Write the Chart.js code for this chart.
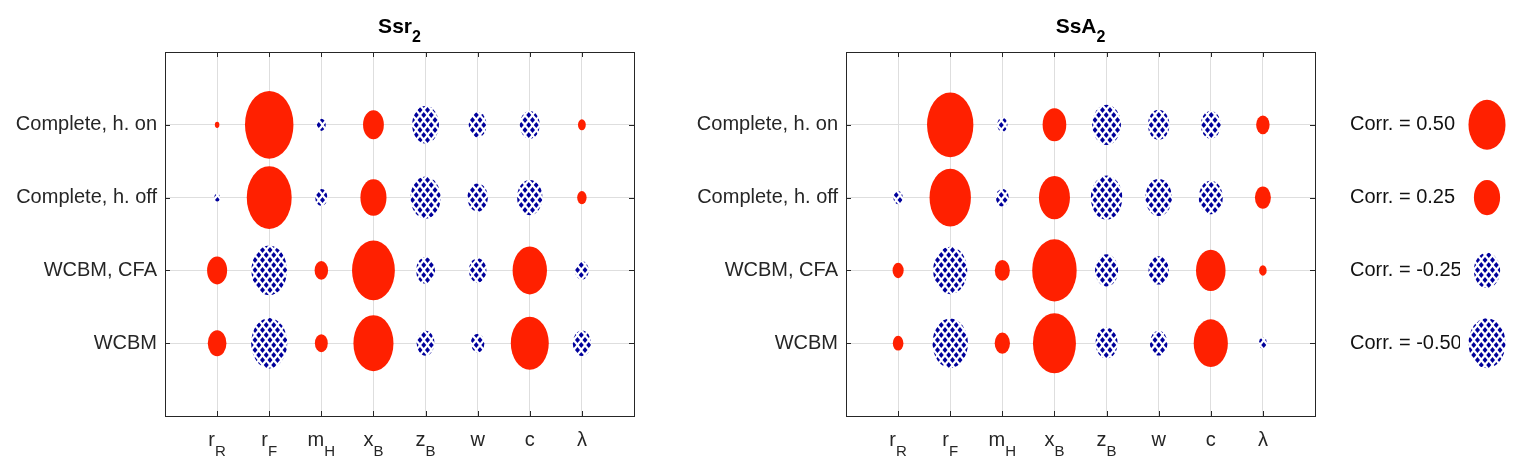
<!DOCTYPE html>
<html>
<head>
<meta charset="utf-8">
<script src="https://cdn.jsdelivr.net/npm/chart.js@4.4.1/dist/chart.umd.min.js"></script>
<style>
  html, body { margin: 0; padding: 0; background: #fff; }
  #wrap { position: relative; width: 1523px; height: 473px; overflow: hidden; }
  canvas { position: absolute; top: 0; }
</style>
</head>
<body>
<div id="wrap">
  <canvas id="ssr" style="left:0px" width="660" height="473"></canvas>
  <canvas id="ssa" style="left:660px" width="660" height="473"></canvas>
  <canvas id="leg" style="left:1320px" width="203" height="473"></canvas>
</div>
<script>
// parameters (x axis), main letter + subscript
const paramMain = ['r', 'r', 'm', 'x', 'z', 'w', 'c', 'λ'];
const paramSub  = ['R', 'F', 'H', 'B', 'B', '',  '',  ''];
// rows from bottom to top
const rowLabels = ['WCBM', 'WCBM, CFA', 'Complete, h. off', 'Complete, h. on'];

// Ssr_2 correlations, columns r_R r_F m_H x_B z_B w c lambda
const ssrWCBM = [0.136, -0.51, 0.065, 0.628, -0.124, -0.07, 0.564, -0.131];
const ssrCFA  = [0.157, -0.495, 0.071, 0.717, -0.14, -0.12, 0.462, -0.072];
const ssrOff  = [-0.012, 0.79, -0.058, 0.267, -0.355, -0.16, -0.25, 0.035];
const ssrOn   = [0.008, 0.92, -0.03, 0.17, -0.28, -0.125, -0.155, 0.024];

// SsA_2 correlations
const ssaWCBM = [0.044, -0.49, 0.091, 0.722, -0.189, -0.122, 0.457, -0.025];
const ssaCFA  = [0.048, -0.453, 0.088, 0.775, -0.208, -0.162, 0.342, 0.022];
const ssaOff  = [-0.035, 0.671, -0.064, 0.377, -0.388, -0.275, -0.225, 0.1];
const ssaOn   = [0.0, 0.84, -0.041, 0.22, -0.325, -0.18, -0.155, 0.071];

// legend entries, top to bottom
const legendCorr = [0.50, 0.25, -0.25, -0.50];

const FONT = '"Liberation Sans", Arial, Helvetica, sans-serif';
const RED = '#ff2000';
const BLUE = '#00009c';
const INK = '#262626';
const SIZE = 0.97; // ellipse diameter (axis units) for |corr| = 1

// diamond hatch used for negative correlations
function hatch(ctx) {
  const t = document.createElement('canvas');
  t.width = 15; t.height = 10;
  const g = t.getContext('2d');
  g.fillStyle = '#fff';
  g.fillRect(0, 0, 15, 10);
  g.fillStyle = BLUE;
  const dia = (cx, cy) => {
    g.beginPath();
    g.moveTo(cx, cy - 3.1); g.lineTo(cx + 2.5, cy);
    g.lineTo(cx, cy + 3.1); g.lineTo(cx - 2.5, cy);
    g.closePath(); g.fill();
  };
  [[0, 0], [7.5, 0], [15, 0], [0, 10], [7.5, 10], [15, 10], [3.75, 5], [11.25, 5]]
    .forEach(p => dia(p[0], p[1]));
  return ctx.createPattern(t, 'repeat');
}

// draws each point as an ellipse sized by sqrt(|corr|) in axis units
const ellipsePlugin = {
  id: 'corrEllipses',
  afterDatasetsDraw(chart) {
    const ctx = chart.ctx, xs = chart.scales.x, ys = chart.scales.y;
    const pat = hatch(ctx);
    chart.data.datasets.forEach((ds, di) => {
      chart.getDatasetMeta(di).data.forEach((pt, i) => {
        const c = ds.data[i].c;
        if (Math.abs(c) < 1e-4) return;
        const r = SIZE * Math.sqrt(Math.abs(c)) / 2;
        const rx = Math.abs(xs.getPixelForValue(r) - xs.getPixelForValue(0));
        const ry = Math.abs(ys.getPixelForValue(r) - ys.getPixelForValue(0));
        ctx.save();
        ctx.beginPath();
        ctx.ellipse(pt.x, pt.y, rx, ry, 0, 0, 2 * Math.PI);
        ctx.fillStyle = c > 0 ? RED : pat;
        ctx.fill();
        ctx.restore();
      });
    });
  }
};

function drawSub(ctx, cx, base, main, sub, font, subFont, dy, color) {
  ctx.font = font;
  const wm = ctx.measureText(main).width;
  ctx.font = subFont;
  const ws = sub ? ctx.measureText(sub).width : 0;
  const x0 = cx - (wm + ws) / 2;
  ctx.fillStyle = color;
  ctx.textAlign = 'left';
  ctx.textBaseline = 'alphabetic';
  ctx.font = font;
  ctx.fillText(main, x0, base);
  if (sub) {
    ctx.font = subFont;
    ctx.fillText(sub, x0 + wm, base + dy);
  }
}

// box, inward ticks, subscripted x labels and title
function axesPlugin(titleMain, titleSub) {
  return {
    id: 'matlabAxes',
    afterDraw(chart) {
      const ctx = chart.ctx, a = chart.chartArea;
      const xs = chart.scales.x, ys = chart.scales.y;
      ctx.save();
      ctx.strokeStyle = INK;
      ctx.lineWidth = 1;
      ctx.strokeRect(a.left + 0.5, a.top + 0.5, a.right - a.left, a.bottom - a.top);
      ctx.beginPath();
      xs.ticks.forEach(t => {
        const px = Math.round(xs.getPixelForValue(t.value)) + 0.5;
        ctx.moveTo(px, a.top); ctx.lineTo(px, a.top + 5);
        ctx.moveTo(px, a.bottom); ctx.lineTo(px, a.bottom - 5);
      });
      ys.ticks.forEach(t => {
        const py = Math.round(ys.getPixelForValue(t.value)) + 0.5;
        ctx.moveTo(a.left, py); ctx.lineTo(a.left + 5, py);
        ctx.moveTo(a.right, py); ctx.lineTo(a.right - 5, py);
      });
      ctx.stroke();
      paramMain.forEach((m, i) => {
        drawSub(ctx, xs.getPixelForValue(i + 1), 446, m, paramSub[i],
          '20px ' + FONT, '15px ' + FONT, 10, INK);
      });
      drawSub(ctx, (a.left + a.right) / 2, 33, titleMain, titleSub,
        'bold 21px ' + FONT, 'bold 16px ' + FONT, 9, '#000');
      ctx.restore();
    }
  };
}

function plotConfig(rows, yWidth, padRight, titleMain, titleSub) {
  const data = [];
  rows.forEach((vals, r) => vals.forEach((c, i) => data.push({ x: i + 1, y: r + 1, c: c })));
  return {
    type: 'scatter',
    data: { datasets: [{ data: data, pointRadius: 0, pointHoverRadius: 0 }] },
    options: {
      responsive: false,
      animation: false,
      events: [],
      layout: { padding: { top: 52, right: padRight, bottom: 0, left: 0 } },
      plugins: { legend: { display: false }, tooltip: { enabled: false } },
      scales: {
        x: {
          type: 'linear', min: 0, max: 9,
          afterBuildTicks: s => { s.ticks = paramMain.map((_, i) => ({ value: i + 1 })); },
          afterFit: s => { s.height = 57; },
          ticks: { display: false },
          grid: { color: '#dedede', drawTicks: false },
          border: { display: false }
        },
        y: {
          type: 'linear', min: 0, max: 5,
          afterBuildTicks: s => { s.ticks = rowLabels.map((_, i) => ({ value: i + 1 })); },
          afterFit: s => { s.width = yWidth; },
          ticks: {
            callback: v => rowLabels[v - 1],
            font: { family: FONT, size: 20 },
            color: INK,
            padding: 8
          },
          grid: { color: '#dedede', drawTicks: false },
          border: { display: false }
        }
      }
    },
    plugins: [ellipsePlugin, axesPlugin(titleMain, titleSub)]
  };
}

new Chart(document.getElementById('ssr'),
  plotConfig([ssrWCBM, ssrCFA, ssrOff, ssrOn], 165, 26, 'Ssr', '2'));
new Chart(document.getElementById('ssa'),
  plotConfig([ssaWCBM, ssaCFA, ssaOff, ssaOn], 186, 5, 'SsA', '2'));

// legend as its own small axes
const legendLabels = legendCorr.map(c => 'Corr. = ' + c.toFixed(2));
new Chart(document.getElementById('leg'), {
  type: 'scatter',
  data: {
    datasets: [{
      data: legendCorr.map((c, i) => ({ x: 0.5, y: legendCorr.length - i, c: c })),
      pointRadius: 0, pointHoverRadius: 0
    }]
  },
  options: {
    responsive: false,
    animation: false,
    events: [],
    layout: { padding: { top: 52, right: 9, bottom: 57, left: 30 } },
    plugins: { legend: { display: false }, tooltip: { enabled: false } },
    scales: {
      x: { type: 'linear', min: 0, max: 1, display: false },
      y: {
        type: 'linear', min: 0, max: 5,
        afterBuildTicks: s => { s.ticks = legendLabels.map((_, i) => ({ value: i + 1 })); },
        afterFit: s => { s.width = 110; },
        ticks: {
          callback: v => legendLabels[legendLabels.length - v],
          crossAlign: 'far',
          font: { family: FONT, size: 20 },
          color: '#111'
        },
        grid: { display: false },
        border: { display: false }
      }
    }
  },
  plugins: [ellipsePlugin]
});
</script>
</body>
</html>
